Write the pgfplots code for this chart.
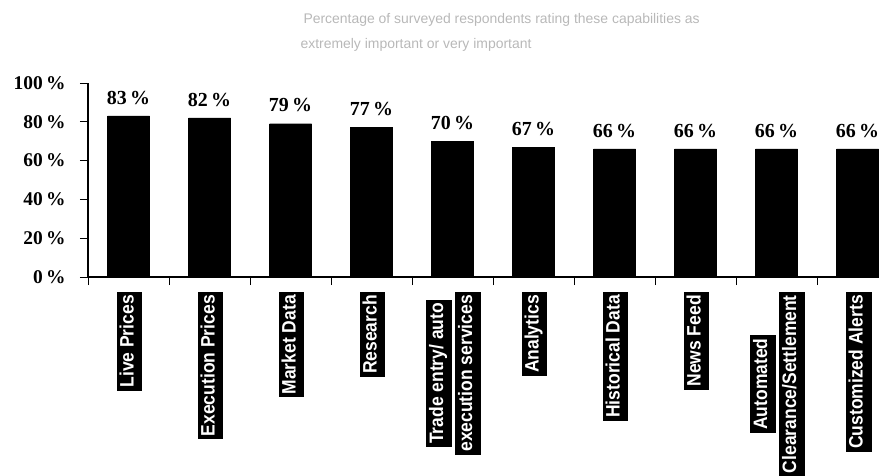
\documentclass[border=0pt]{standalone}
\usepackage{pgfplots}
\pgfplotsset{compat=1.18}
\usepackage{fontspec}
\setmainfont{Liberation Serif}
\newfontfamily\lsans{Liberation Sans}
\newfontfamily\nsans[FakeStretch=0.9]{Liberation Sans}
\newcommand{\lb}[1]{{\setlength{\fboxsep}{3bp}\colorbox{black}{\color{white}\strut #1}}}
\begin{document}
\begin{tikzpicture}
\begin{axis}[
  at={(0,0)}, anchor=south west,
  scale only axis,
  width=791bp, height=194bp,
  xmin=-0.5, xmax=9.265,
  ymin=0, ymax=100,
  axis x line=bottom, axis y line=left,
  axis line style={-, line width=1.3pt},
  tick align=outside,
  ytick={0,20,40,60,80,100},
  yticklabels={0\,\%,20\,\%,40\,\%,60\,\%,80\,\%,100\,\%},
  yticklabel style={font=\bfseries\fontsize{19.5}{19.5}\selectfont, xshift=-11bp},
  major tick length=8bp,
  minor tick length=8bp,
  tick style={black, line width=1pt},
  xtick={0,...,9},
  minor xtick={-0.5,0.5,...,8.5},
  major x tick style={draw=none},
  xticklabels={
    {\lb{Live Prices}},
    {\lb{Execution Prices}},
    {\lb{Market Data}},
    {\lb{Research}},
    {\shortstack{\lb{Trade entry/ auto}\\\lb{execution services}}},
    {\lb{Analytics}},
    {\lb{Historical Data}},
    {\lb{News Feed}},
    {\shortstack{\lb{Automated}\\\lb{Clearance/Settlement}}},
    {\lb{Customized Alerts}}
  },
  xticklabel style={rotate=90, anchor=east, font=\nsans\bfseries\fontsize{19.5}{19.5}\selectfont, inner sep=0pt, xshift=-7bp, yshift=-1bp},
  /pgf/number format/assume math mode=true,
  nodes near coords={\pgfmathprintnumber{\pgfplotspointmeta}\,\%},
  nodes near coords style={font=\bfseries\fontsize{20}{20}\selectfont, anchor=south, yshift=8bp},
  clip=false,
]
\addplot[ybar, bar width=42bp, fill=black, draw=black] coordinates {
  (0,83) (1,82) (2,79) (3,77) (4,70) (5,67) (6,66) (7,66) (8,66) (9,66)
};
\end{axis}
\node[anchor=west, text=black!28, font=\lsans\fontsize{14}{14}\selectfont] at (212bp,257bp) {Percentage of surveyed respondents rating these capabilities as};
\node[anchor=west, text=black!28, font=\lsans\fontsize{14}{14}\selectfont] at (209bp,232bp) {extremely important or very important};
\pgfresetboundingbox
\path[use as bounding box] (-88bp,-199bp) rectangle (804bp,277bp);
\end{tikzpicture}
\end{document}
